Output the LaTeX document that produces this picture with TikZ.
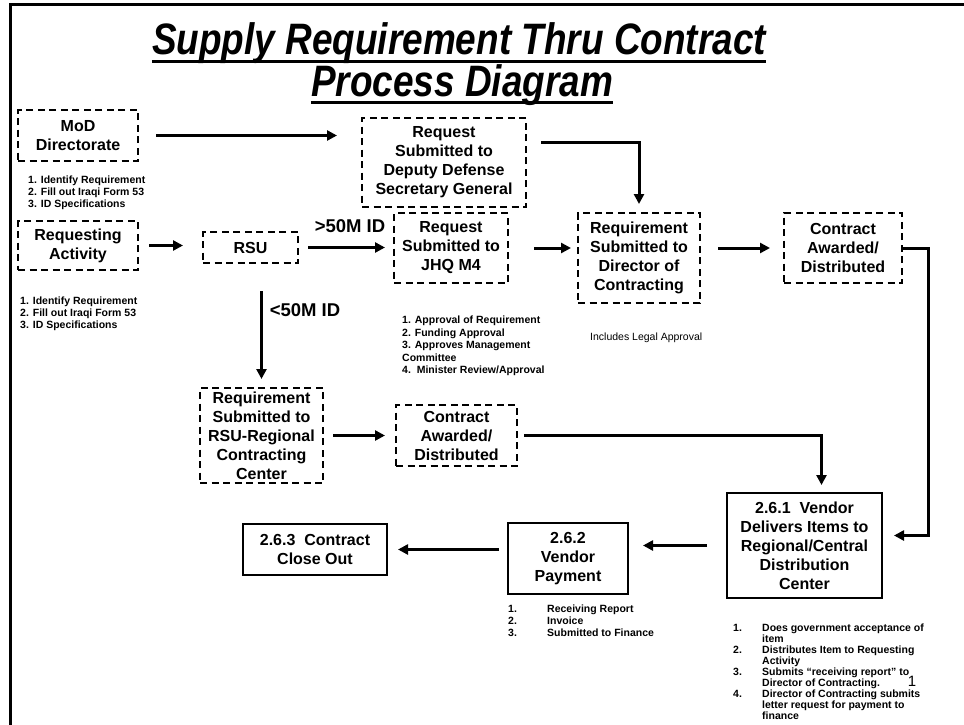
\documentclass[tikz,border=0pt]{standalone}
\usepackage{fontspec}
\setmainfont{Liberation Sans}
\usetikzlibrary{arrows.meta,calc}
\begin{document}
\begin{tikzpicture}[x=1pt,y=-1pt,
  boxtext/.style={align=center,inner sep=0pt,font=\fontsize{16}{19}\selectfont\bfseries},
  dbox/.style={boxtext,draw,line width=2pt,dash pattern=on 7pt off 4.5pt},
  sbox/.style={boxtext,draw,line width=2pt},
  arr/.style={line width=3pt,-{Triangle[length=10pt,width=10pt]}},
  note/.style={anchor=north west,inner sep=0pt,font=\fontsize{10.5}{12}\selectfont\bfseries},
  lbl/.style={inner sep=0pt,font=\fontsize{18.5}{20}\selectfont\bfseries},
  ttl/.style={inner sep=0pt,anchor=base},
  ul/.style={line width=3pt}]
\useasboundingbox (0,0) rectangle (964,725);
% frame
\draw[line width=3pt] (10,725) -- (10,5) -- (964,5);
% title
\node[ttl] (t1) at (459,55) {\scalebox{0.84}[1]{\fontsize{44}{44}\selectfont\bfseries\itshape Supply Requirement Thru Contract}};
\node[ttl] (t2) at (462,96) {\scalebox{0.84}[1]{\fontsize{44}{44}\selectfont\bfseries\itshape Process Diagram}};
\draw[ul] ([yshift=-6.5pt]t1.base west) -- ([yshift=-6.5pt]t1.base east);
\draw[ul] ([yshift=-6.5pt]t2.base west) -- ([yshift=-6.5pt]t2.base east);
% boxes
\node[dbox,minimum width=120pt,minimum height=51pt] (mod) at (78,135.5) {MoD\\Directorate};
\node[dbox,minimum width=120pt,minimum height=49pt] (ra) at (78,245.5) {Requesting\\Activity};
\node[dbox,minimum width=95pt,minimum height=31pt] (rsu) at (250.5,247.5) {RSU};
\node[dbox,minimum width=164pt,minimum height=89pt] (dep) at (444,162.5) {Request\\Submitted to\\Deputy Defense\\Secretary General};
\node[dbox,minimum width=114pt,minimum height=70pt] (jhq) at (451,248) {Request\\Submitted to\\JHQ M4};
\node[dbox,minimum width=122pt,minimum height=90pt] (dir) at (639,258) {Requirement\\Submitted to\\Director of\\Contracting};
\node[dbox,minimum width=118pt,minimum height=70pt] (c1) at (843,248) {Contract\\Awarded/\\Distributed};
\node[dbox,minimum width=123pt,minimum height=95pt] (rr) at (261.5,435.5) {Requirement\\Submitted to\\RSU-Regional\\Contracting\\Center};
\node[dbox,minimum width=121pt,minimum height=61pt] (c2) at (456.5,435.5) {Contract\\Awarded/\\Distributed};
\node[sbox,minimum width=155pt,minimum height=105pt] (ven) at (804.5,545.5) {2.6.1\ \ Vendor\\Delivers Items to\\Regional/Central\\Distribution\\Center};
\node[sbox,minimum width=120pt,minimum height=71pt] (pay) at (568,558.5) {2.6.2\\Vendor\\Payment};
\node[sbox,minimum width=144pt,minimum height=51pt] (clo) at (315,549.5) {2.6.3\ \ Contract\\Close Out};
% labels
\node[lbl] (gt) at (350,226) {>50M ID};
\node[lbl] (lt) at (305,310) {<50M ID};
% notes
\node[note] (n1) at (28,174.4) {\begin{tabular}{@{}l@{}}1. Identify Requirement\\2. Fill out Iraqi Form 53\\3. ID Specifications\end{tabular}};
\node[note] (n2) at (20,295.4) {\begin{tabular}{@{}l@{}}1. Identify Requirement\\2. Fill out Iraqi Form 53\\3. ID Specifications\end{tabular}};
\node[note,font=\fontsize{10.5}{12.5}\selectfont\bfseries] (n3) at (402,315) {\begin{tabular}{@{}l@{}}1. Approval of Requirement\\2. Funding Approval\\3. Approves Management\\Committee\\4.\ \ Minister Review/Approval\end{tabular}};
\node[inner sep=0pt,anchor=west,font=\fontsize{10.5}{12}\selectfont] (n4) at (590,338) {Includes Legal Approval};
\node[note] (n5) at (508,604) {\begin{tabular}{@{}p{39pt}@{}l@{}}1.&Receiving Report\\2.&Invoice\\3.&Submitted to Finance\end{tabular}};
\node[note,font=\fontsize{10.5}{11}\selectfont\bfseries] (n6) at (733,624) {\begin{tabular}{@{}p{29pt}@{}l@{}}1.&Does government acceptance of\\&item\\2.&Distributes Item to Requesting\\&Activity\\3.&Submits “receiving report” to\\&Director of Contracting.\\4.&Director of Contracting submits\\&letter request for payment to\\&finance\end{tabular}};
\node[inner sep=0pt,font=\fontsize{15}{15}\selectfont] (pg) at (912,681) {1};
% connectors
\draw[arr] ([xshift=17pt]mod.east) -- ([xshift=-24pt]mod.east -| dep.west);
\draw[arr] ([xshift=14pt,yshift=20.5pt]dep.east) -| ([yshift=8pt]dir.north);
\draw[arr] ([xshift=10pt]ra.east) -- ([xshift=-19pt]ra.east -| rsu.west);
\draw[arr] ([xshift=9pt]rsu.east) -- ([xshift=-8pt]rsu.east -| jhq.west);
\draw[arr] ([xshift=25pt]jhq.east) -- ([xshift=-6pt]jhq.east -| dir.west);
\draw[arr] ([xshift=17pt]dir.east |- c1.west) -- ([xshift=-13pt]c1.west);
\draw[arr] (c1.east) -- ([xshift=25pt]c1.east) |- ([xshift=11pt,yshift=10pt]ven.east);
\draw[arr] (rr.north |- rsu.south) ++(0,27) -- ([yshift=8pt]rr.north);
\draw[arr] ([xshift=9pt]rr.east) -- ([xshift=-10pt]rr.east -| c2.west);
\draw[arr] ([xshift=6pt]c2.east) -| ([xshift=17pt,yshift=7pt]ven.north);
\draw[arr] ([xshift=-19pt]ven.west) -- ([xshift=14pt]ven.west -| pay.east);
\draw[arr] ([xshift=-8pt]pay.west |- clo.east) -- ([xshift=10pt]clo.east);
\end{tikzpicture}
\end{document}
